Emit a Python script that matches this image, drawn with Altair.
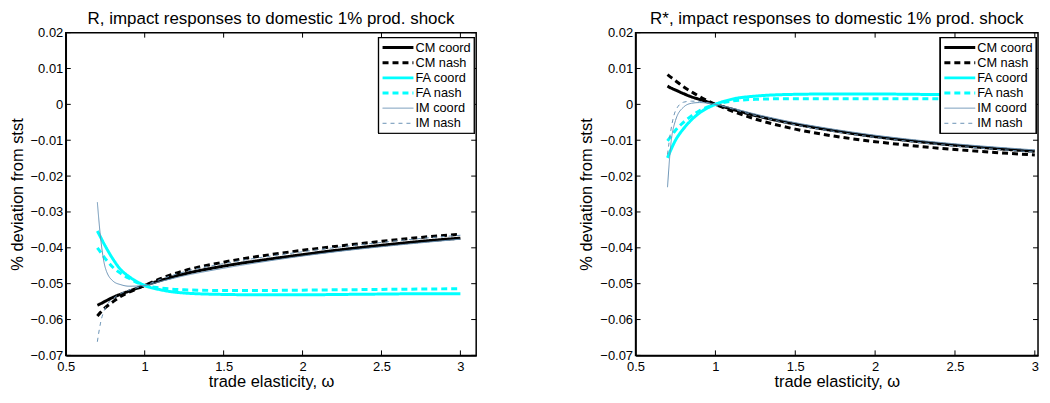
import altair as alt
import pandas as pd

# ---------------- data ----------------
omega = [0.7, 0.72, 0.75, 0.8, 0.85, 0.9, 1.0, 1.1, 1.25, 1.5, 1.75, 2.0, 2.25, 2.5, 2.75, 3.0]

series_names = ["CM coord", "CM nash", "FA coord", "FA nash", "IM coord", "IM nash"]

# Panel 1: R
r_cm_coord = [-0.0560, -0.0556, -0.0549, -0.0538, -0.0529, -0.0521, -0.0505, -0.0491, -0.0473, -0.0451, -0.0434, -0.0419, -0.0405, -0.0393, -0.0382, -0.0373]
r_cm_nash = [-0.0590, -0.0580, -0.0567, -0.0550, -0.0535, -0.0524, -0.0505, -0.0486, -0.0464, -0.0440, -0.0422, -0.0407, -0.0394, -0.0382, -0.0371, -0.0362]
r_fa_coord = [-0.0353, -0.0370, -0.0395, -0.0432, -0.0462, -0.0480, -0.0505, -0.0517, -0.0526, -0.0530, -0.0531, -0.0531, -0.0530, -0.0529, -0.0528, -0.0528]
r_fa_nash = [-0.0400, -0.0412, -0.0430, -0.0455, -0.0472, -0.0485, -0.0505, -0.0512, -0.0517, -0.0519, -0.0519, -0.0518, -0.0517, -0.0516, -0.0515, -0.0514]
r_im_coord = [-0.0273, -0.0370, -0.0455, -0.0493, -0.0503, -0.0507, -0.0505, -0.0494, -0.0478, -0.0457, -0.0439, -0.0423, -0.0409, -0.0397, -0.0386, -0.0376]
r_im_nash = [-0.0662, -0.0610, -0.0568, -0.0542, -0.0527, -0.0518, -0.0505, -0.0488, -0.0467, -0.0444, -0.0426, -0.0411, -0.0397, -0.0385, -0.0374, -0.0365]

# Panel 2: R*
rs_cm_coord = [0.0051, 0.0046, 0.0040, 0.0030, 0.0021, 0.0014, 0.0000, -0.0013, -0.0031, -0.0055, -0.0074, -0.0090, -0.0103, -0.0114, -0.0123, -0.0131]
rs_cm_nash = [0.0083, 0.0076, 0.0066, 0.0049, 0.0035, 0.0022, 0.0000, -0.0018, -0.0041, -0.0069, -0.0089, -0.0104, -0.0116, -0.0126, -0.0134, -0.0141]
rs_fa_coord = [-0.0149, -0.0128, -0.0100, -0.0068, -0.0043, -0.0024, 0.0000, 0.0014, 0.0023, 0.0028, 0.0029, 0.0029, 0.0028, 0.0027, 0.0026, 0.0025]
rs_fa_nash = [-0.0102, -0.0090, -0.0072, -0.0050, -0.0032, -0.0018, 0.0000, 0.0009, 0.0014, 0.0016, 0.0016, 0.0016, 0.0016, 0.0015, 0.0015, 0.0015]
rs_im_coord = [-0.0231, -0.0115, -0.0045, -0.0008, 0.0003, 0.0005, 0.0000, -0.0010, -0.0027, -0.0051, -0.0070, -0.0086, -0.0099, -0.0110, -0.0119, -0.0127]
rs_im_nash = [-0.0140, -0.0075, -0.0018, 0.0006, 0.0009, 0.0008, 0.0000, -0.0012, -0.0031, -0.0057, -0.0076, -0.0092, -0.0105, -0.0116, -0.0125, -0.0133]

x_ticks = [0.5, 1.0, 1.5, 2.0, 2.5, 3.0]
y_ticks = [0.02, 0.01, 0.0, -0.01, -0.02, -0.03, -0.04, -0.05, -0.06, -0.07]

titles = ["R, impact responses to domestic 1% prod. shock",
          "R*, impact responses to domestic 1% prod. shock"]

# ---------------- styles ----------------
colors = ["#000000", "#000000", "#00ffff", "#00ffff", "#6a93b5", "#6a93b5"]
dashes = [[1, 0], [6, 4], [1, 0], [6, 4], [1, 0], [4, 4]]
widths = [3, 3, 3, 3, 1, 1]

FONT = "Liberation Sans"
H = 324

yscale = alt.Scale(domain=[-0.07, 0.02], nice=False, zero=False)
cscale = alt.Scale(domain=series_names, range=colors)
dscale = alt.Scale(domain=series_names, range=dashes)
wscale = alt.Scale(type="ordinal", domain=series_names, range=widths)

X_AXIS = alt.Axis(values=x_ticks, format="~g", title="trade elasticity, ω",
                  labelFlush=False, labelOverlap=False,
                  tickSize=0, labelPadding=5, titlePadding=0, grid=False)
Y_AXIS = alt.Axis(values=y_ticks, title="% deviation from stst",
                  labelExpr="datum.value == 0 ? '0' : format(datum.value, '.2f')",
                  labelOverlap=False, labelFlush=False,
                  tickSize=0, labelPadding=3, titlePadding=5, grid=False)

xticks_df = pd.DataFrame({"t": x_ticks})
yticks_df = pd.DataFrame({"t": y_ticks})
legend_df = pd.DataFrame({"series": series_names, "row": list(range(len(series_names)))})


def long_df(cols):
    rows = []
    for name, vals in zip(series_names, cols):
        for i, (x, v) in enumerate(zip(omega, vals)):
            rows.append({"omega": x, "value": v, "series": name, "order": i})
    return pd.DataFrame(rows)


def panel(cols, title, W, xmax):
    df = long_df(cols)
    xscale = alt.Scale(domain=[0.5, xmax], nice=False, zero=False)
    lines = alt.Chart(df).mark_line(interpolate="monotone").encode(
        x=alt.X("omega:Q", scale=xscale, axis=X_AXIS),
        y=alt.Y("value:Q", scale=yscale, axis=Y_AXIS),
        color=alt.Color("series:N", scale=cscale, legend=None),
        strokeDash=alt.StrokeDash("series:N", scale=dscale, legend=None),
        strokeWidth=alt.StrokeWidth("series:N", scale=wscale, legend=None),
        order="order:Q",
    )
    xb = alt.Chart(xticks_df).mark_rule(color="black", strokeWidth=1).encode(
        x=alt.X("t:Q", scale=xscale, axis=X_AXIS), y=alt.value(H - 5), y2=alt.value(H))
    xt = alt.Chart(xticks_df).mark_rule(color="black", strokeWidth=1).encode(
        x=alt.X("t:Q", scale=xscale, axis=X_AXIS), y=alt.value(0), y2=alt.value(5))
    yl = alt.Chart(yticks_df).mark_rule(color="black", strokeWidth=1).encode(
        y=alt.Y("t:Q", scale=yscale, axis=Y_AXIS), x=alt.value(0), x2=alt.value(5))
    yr = alt.Chart(yticks_df).mark_rule(color="black", strokeWidth=1).encode(
        y=alt.Y("t:Q", scale=yscale, axis=Y_AXIS), x=alt.value(W - 5), x2=alt.value(W))

    # legend box (drawn inside the plot area, top-right)
    box_right = W - 2
    bl = box_right - 96
    box = alt.Chart(legend_df).mark_rect(fill="white", stroke="black", strokeWidth=1.2).encode(
        x=alt.value(bl), x2=alt.value(box_right), y=alt.value(5), y2=alt.value(101))
    leg_base = alt.Chart(legend_df).transform_calculate(ypx="15 + 15.2 * datum.row")
    leg_lines = leg_base.mark_rule().encode(
        x=alt.value(bl + 4), x2=alt.value(bl + 35),
        y=alt.Y("ypx:Q", scale=None),
        color=alt.Color("series:N", scale=cscale, legend=None),
        strokeDash=alt.StrokeDash("series:N", scale=dscale, legend=None),
        strokeWidth=alt.StrokeWidth("series:N", scale=wscale, legend=None),
    )
    leg_text = leg_base.mark_text(align="left", baseline="middle", font=FONT, fontSize=12.8, color="black").encode(
        x=alt.value(bl + 37), y=alt.Y("ypx:Q", scale=None), text="series:N")

    return alt.layer(lines, xb, xt, yl, yr, box, leg_lines, leg_text).properties(
        width=W, height=H, title=alt.Title(title, fontSize=17, font=FONT, fontWeight="normal", offset=-1)
    )


left = panel([r_cm_coord, r_cm_nash, r_fa_coord, r_fa_nash, r_im_coord, r_im_nash], titles[0], 412, 3.1)
right = panel([rs_cm_coord, rs_cm_nash, rs_fa_coord, rs_fa_nash, rs_im_coord, rs_im_nash], titles[1], 404, 3.02)

chart = alt.hconcat(left, right, spacing=100).configure_view(
    stroke="black", strokeWidth=1.5
).configure_axis(
    domainColor="black", domainWidth=1.5, labelColor="black", titleColor="black",
    labelFont=FONT, titleFont=FONT, labelFontSize=13, titleFontSize=16.5, titleFontWeight="normal"
).properties(padding={"left": 0, "top": 0, "right": 0, "bottom": 0})

chart.save("out.html", embed_options={"renderer": "svg", "actions": False})
